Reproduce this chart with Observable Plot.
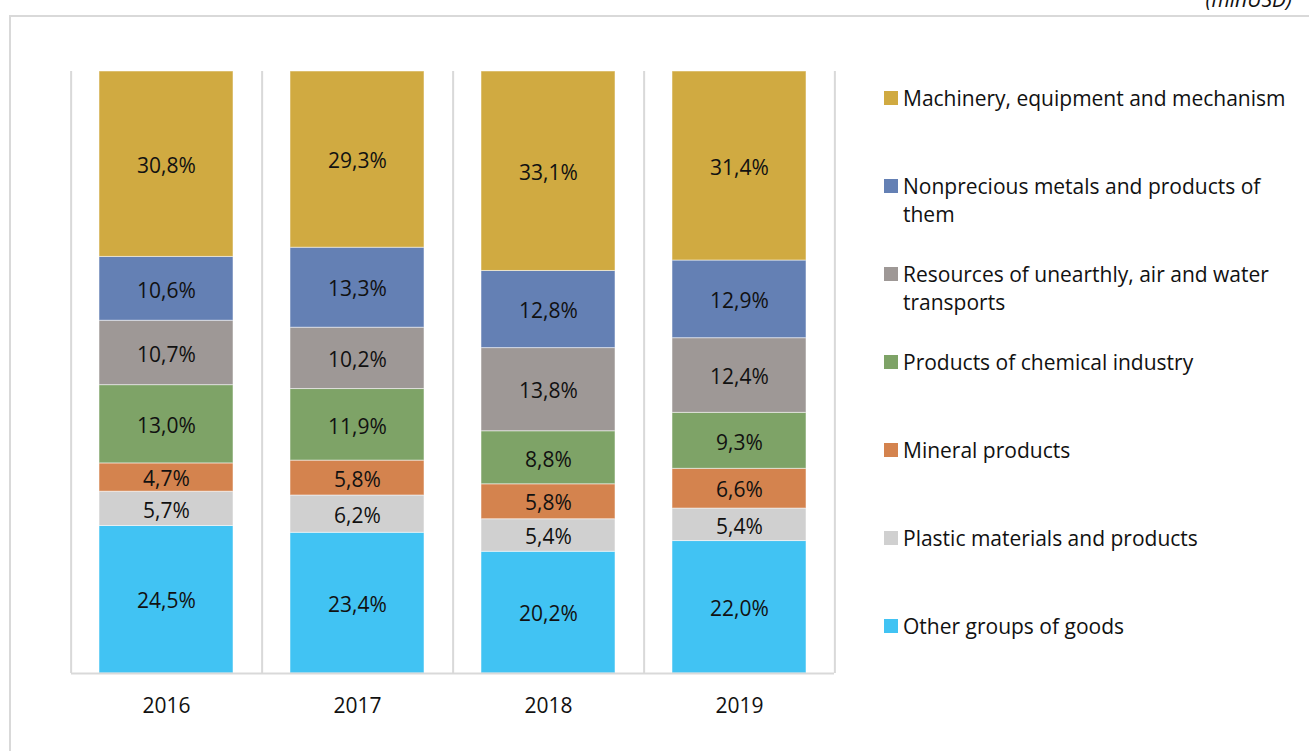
<!DOCTYPE html>
<html>
<head>
<meta charset="utf-8">
<script src="https://cdn.jsdelivr.net/npm/d3@7"></script>
<script src="https://cdn.jsdelivr.net/npm/@observablehq/plot@0.6"></script>
<style>
  html, body { margin: 0; padding: 0; background: #fff; }
  #wrap { position: relative; width: 1309px; height: 751px; overflow: hidden; font-family: "Open Sans", sans-serif; color: #111; }
  #frame { position: absolute; left: 9px; top: 15px; width: 1400px; height: 800px; border: 2px solid #d9d9d9; box-sizing: border-box; }
  #unit { position: absolute; right: 17px; top: -15px; font-style: italic; font-size: 21px; color: #111; }
  #chart { position: absolute; left: 0; top: 0; }
  .item { position: absolute; left: 884px; display: flex; align-items: flex-start; font-size: 21px; line-height: 28px; white-space: nowrap; }
  .sw { width: 14px; height: 14px; margin-top: 7px; margin-right: 5px; flex: none; }
</style>
</head>
<body>
<div id="wrap">
  <div id="frame"></div>
  <div id="unit">(mlnUSD)</div>
  <div id="chart"></div>
  <div id="legend"></div>
</div>
<script>
// ---- Data ----
const years = ["2016", "2017", "2018", "2019"];
// categories listed bottom -> top of each stacked bar
const categories = [
  "Other groups of goods",
  "Plastic materials and products",
  "Mineral products",
  "Products of chemical industry",
  "Resources of unearthly, air and water transports",
  "Nonprecious metals and products of them",
  "Machinery, equipment and mechanism"
];
const other       = [24.5, 23.4, 20.2, 22.0];
const plastic     = [5.7, 6.2, 5.4, 5.4];
const mineral     = [4.7, 5.8, 5.8, 6.6];
const chemical    = [13.0, 11.9, 8.8, 9.3];
const resources   = [10.7, 10.2, 13.8, 12.4];
const nonprecious = [10.6, 13.3, 12.8, 12.9];
const machinery   = [30.8, 29.3, 33.1, 31.4];
const colors = ["#41C3F3", "#D0D0D0", "#D4834E", "#7EA367", "#9E9896", "#6480B4", "#D0AA41"];
// legend order (top -> bottom) with line breaks as in the original
const legendOrder = [6, 5, 4, 3, 2, 1, 0];
const legendLines = {
  "Machinery, equipment and mechanism": ["Machinery, equipment and mechanism"],
  "Nonprecious metals and products of them": ["Nonprecious metals and products of", "them"],
  "Resources of unearthly, air and water transports": ["Resources of unearthly, air and water", "transports"],
  "Products of chemical industry": ["Products of chemical industry"],
  "Mineral products": ["Mineral products"],
  "Plastic materials and products": ["Plastic materials and products"],
  "Other groups of goods": ["Other groups of goods"]
};

const seriesValues = [other, plastic, mineral, chemical, resources, nonprecious, machinery];
const data = years.flatMap((yr, i) =>
  categories.map((c, k) => ({year: yr, cat: c, value: seriesValues[k][i]}))
);
const fmt = v => v.toFixed(1).replace(".", ",") + "%";

const W = 1309, H = 751, mL = 71, mR = 475, mT = 71, mB = 78;
const step = (W - mL - mR) / years.length;

const chart = Plot.plot({
  width: W, height: H,
  marginLeft: mL, marginRight: mR, marginTop: mT, marginBottom: mB,
  style: {fontFamily: "Open Sans", fontSize: "21px", color: "#111", background: "transparent"},
  x: {domain: years, paddingInner: 0.3, paddingOuter: 0.14, label: null},
  y: {domain: [0, 1], axis: null},
  color: {domain: categories, range: colors},
  marks: [
    Plot.ruleX(years, {x: d => d, dx: -step / 2, stroke: "#d9d9d9", strokeWidth: 2}),
    Plot.ruleX(years.slice(-1), {x: d => d, dx: step / 2, stroke: "#d9d9d9", strokeWidth: 2}),
    Plot.barY(data, Plot.stackY({offset: "normalize"}, {x: "year", y: "value", fill: "cat", stroke: "#fff", strokeOpacity: 0.5, strokeWidth: 1})),
    Plot.text(data, Plot.stackY({offset: "normalize"}, {x: "year", y: "value", text: d => fmt(d.value), fill: "#111", fontSize: 21, dy: 2})),
    Plot.ruleY([0], {stroke: "#d9d9d9", strokeWidth: 2}),
    Plot.axisX({tickSize: 0, tickPadding: 25, fontSize: 21, fill: "#111"})
  ]
});
document.getElementById("chart").appendChild(chart);

// ---- Legend ----
const legend = document.getElementById("legend");
legendOrder.forEach((k, j) => {
  const name = categories[k];
  const item = document.createElement("div");
  item.className = "item";
  item.style.top = (84 + j * 88) + "px";
  const sw = document.createElement("div");
  sw.className = "sw";
  sw.style.background = colors[k];
  const txt = document.createElement("div");
  txt.innerHTML = legendLines[name].join("<br>");
  item.appendChild(sw);
  item.appendChild(txt);
  legend.appendChild(item);
});
</script>
</body>
</html>
